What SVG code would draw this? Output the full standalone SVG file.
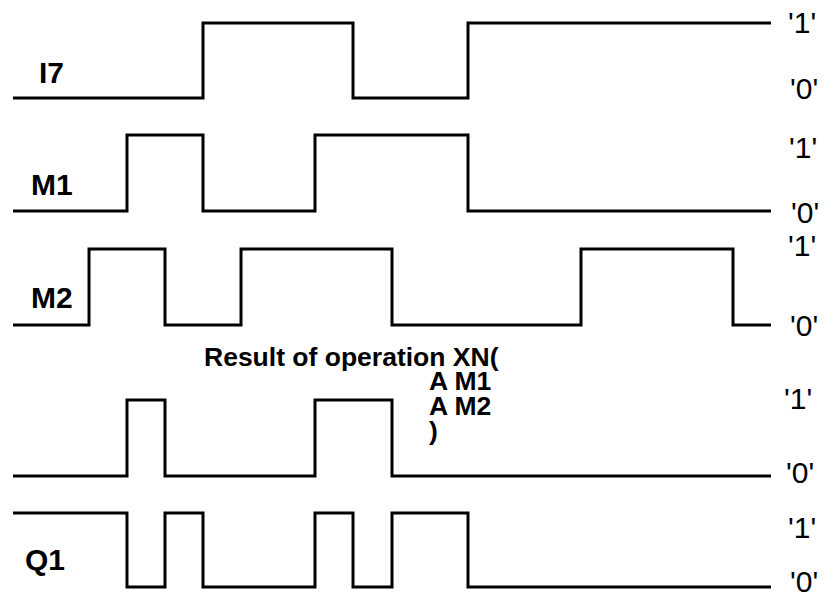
<svg xmlns="http://www.w3.org/2000/svg" width="826" height="600" viewBox="0 0 826 600">
<style>
.w{fill:none;stroke:#000;stroke-width:3;stroke-linejoin:miter;stroke-linecap:butt}
.n{font-family:"Liberation Sans",Arial,sans-serif;font-weight:bold;font-size:30px;fill:#000}
.v{font-family:"Liberation Sans",Arial,sans-serif;font-size:30px;fill:#000}
.r{font-family:"Liberation Sans",Arial,sans-serif;font-weight:bold;font-size:26.5px;fill:#000}
</style>
<rect width="826" height="600" fill="#fff"/>
<g id="connectors">
<path id="w-i7" class="w" d="M13,98 H203 V23 H353 V98 H468 V23 H771"/>
<path id="w-m1" class="w" d="M13,211 H127 V135 H203 V211 H315 V135 H468 V211 H771"/>
<path id="w-m2" class="w" d="M13,325 H89 V249 H165 V325 H241 V249 H392 V325 H581 V249 H733 V325 H771"/>
<path id="w-res" class="w" d="M13,476 H127 V400 H165 V476 H315 V400 H392 V476 H771"/>
<path id="w-q1" class="w" d="M13,513 H127 V587 H165 V513 H203 V587 H315 V513 H353 V587 H392 V513 H468 V587 H771"/>
</g>
<g id="I7">
<text class="n" x="39" y="83">I7</text>
<text class="v" x="788" y="33">'1'</text>
<text class="v" x="790" y="99">'0'</text>
</g>
<g id="M1">
<text class="n" x="31" y="195">M1</text>
<text class="v" x="789" y="158">'1'</text>
<text class="v" x="791" y="223">'0'</text>
</g>
<g id="M2">
<text class="n" x="31" y="308">M2</text>
<text class="v" x="788" y="256">'1'</text>
<text class="v" x="790" y="336">'0'</text>
</g>
<g id="Result">
<text class="r" x="204" y="366">Result of operation XN(<tspan x="429" dy="24">A M1</tspan><tspan x="429" dy="25">A M2</tspan><tspan x="429" dy="25">)</tspan></text>
<text class="v" x="784" y="409">'1'</text>
<text class="v" x="786" y="483">'0'</text>
</g>
<g id="Q1">
<text class="n" x="25" y="570">Q1</text>
<text class="v" x="788" y="538">'1'</text>
<text class="v" x="790" y="592">'0'</text>
</g>
</svg>
